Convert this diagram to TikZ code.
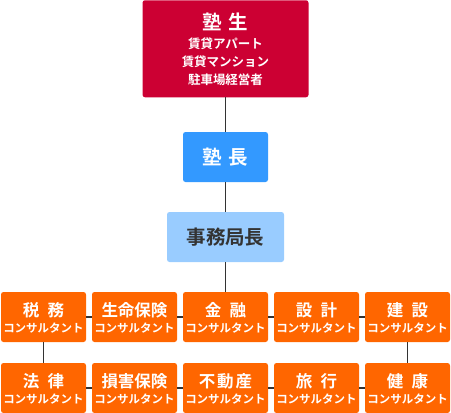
\documentclass[tikz,border=0pt]{standalone}
\usepackage{fontspec}
\setmainfont{Noto Sans CJK JP}[BoldFont={* Bold}]
\definecolor{cred}{HTML}{CC0033}
\definecolor{cblue}{HTML}{3399FF}
\definecolor{clblue}{HTML}{99CCFF}
\definecolor{corange}{HTML}{FF6600}
\definecolor{cline}{HTML}{333333}
\begin{document}
\begin{tikzpicture}[x=1pt,y=-1pt,
  box/.style={rectangle,rounded corners=2.5pt,inner sep=0pt,draw=none},
  redbox/.style={box,fill=cred,minimum width=166pt,minimum height=97pt},
  bluebox/.style={box,fill=cblue,minimum width=85pt,minimum height=50pt},
  lbluebox/.style={box,fill=clblue,minimum width=117pt,minimum height=50pt},
  obox/.style={box,fill=corange,minimum width=85pt,minimum height=50pt},
  wtext/.style={text=white,inner sep=0pt,font=\bfseries},
  big/.style={font=\fontsize{19.5}{19.5}\selectfont\bfseries},
  mid/.style={font=\fontsize{16.5}{16.5}\selectfont\bfseries},
  small/.style={font=\fontsize{11.5}{11.5}\selectfont\bfseries},
  rsmall/.style={font=\fontsize{12.5}{12.5}\selectfont\bfseries},
  conn/.style={draw=cline,line width=1.8pt}]
\useasboundingbox (0,0) rectangle (451,413);
% top boxes
\node[redbox] (juku) at (225.5,48.75) {};
\node[wtext,big] (jukut) at (225.5,22) {塾\hspace{0.35em}生};
\node[wtext,rsmall] (jl1) at (225.5,43.5) {賃貸アパート};
\node[wtext,rsmall] (jl2) at (225.5,61.5) {賃貸マンション};
\node[wtext,rsmall] (jl3) at (225.5,79.5) {駐車場経営者};
\node[bluebox] (cho) at (225.5,157) {};
\node[wtext,big] (chot) at (225.5,157) {塾\hspace{0.35em}長};
\node[lbluebox] (jimu) at (225.5,237) {};
\node[inner sep=0pt,text=cline,big] (jimut) at (225.5,237) {事務局長};
% orange boxes
\foreach \n/\x/\y/\t in {a1/43.5/317/税\hspace{0.5em}務, a2/134.5/317/生命保険, a3/225.5/317/金\hspace{0.5em}融, a4/316.5/317/設\hspace{0.5em}計, a5/407.5/317/建\hspace{0.5em}設,
  b1/43.5/388/法\hspace{0.5em}律, b2/134.5/388/損害保険, b3/225.5/388/不\hspace{0.12em}動\hspace{0.12em}産, b4/316.5/388/旅\hspace{0.5em}行, b5/407.5/388/健\hspace{0.5em}康}{
  \node[obox] (\n) at (\x,\y) {};
  \node[wtext,mid] (\n t) at (\x,\y-7) {\t};
  \node[wtext,small] (\n s) at (\x,\y+11) {コンサルタント};
}
% connectors
\draw[conn] (juku.south) -- (cho.north);
\draw[conn] (cho.south) -- (jimu.north);
\draw[conn] (jimu.south) -- (a3.north);
\draw[conn] (a1.east) -- (a2.west);
\draw[conn] (a2.east) -- (a3.west);
\draw[conn] (a3.east) -- (a4.west);
\draw[conn] (a4.east) -- (a5.west);
\draw[conn] (b1.east) -- (b2.west);
\draw[conn] (b2.east) -- (b3.west);
\draw[conn] (b3.east) -- (b4.west);
\draw[conn] (b4.east) -- (b5.west);
\draw[conn] (a1.south) -- (b1.north);
\draw[conn] (a5.south) -- (b5.north);
\end{tikzpicture}
\end{document}
